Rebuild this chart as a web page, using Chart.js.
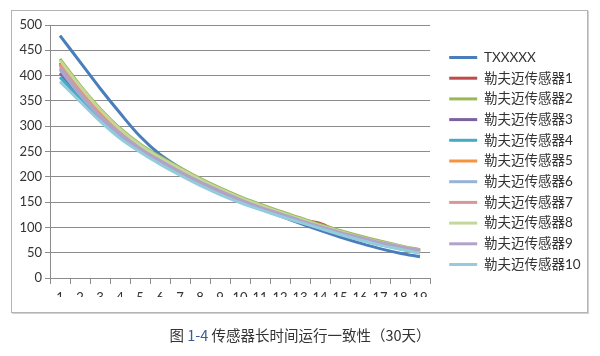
<!DOCTYPE html>
<html>
<head>
<meta charset="utf-8">
<script src="https://cdn.jsdelivr.net/npm/chart.js@4"></script>
<style>
  html, body { margin: 0; padding: 0; background: #fff; }
  body { width: 600px; height: 356px; position: relative; overflow: hidden; }
  #frame { position: absolute; left: 11px; top: 10px; width: 575px; height: 301px;
           border: 1px solid #b4b4b4; box-shadow: 1px 1px 0 #d0d0d0; }
  #wrap { position: absolute; left: 0; top: 0; width: 600px; height: 356px; }
  #caption { position: absolute; left: 0; width: 600px; top: 324px; text-align: center;
             font-family: "Noto Sans CJK SC", sans-serif; font-size: 14.5px; color: #333; }
  #caption .num { color: #3b5a8f; }
</style>
</head>
<body>
<div id="frame"></div>
<div id="wrap"><canvas id="c" width="600" height="356"></canvas></div>
<div id="caption">图 <span class="num">1-4</span> 传感器长时间运行一致性（30天）</div>
<script>
const categories = ['1','2','3','4','5','6','7','8','9','10','11','12','13','14','15','16','17','18','19'];
const seriesNames = ['TXXXXX','勒夫迈传感器1','勒夫迈传感器2','勒夫迈传感器3','勒夫迈传感器4','勒夫迈传感器5','勒夫迈传感器6','勒夫迈传感器7','勒夫迈传感器8','勒夫迈传感器9','勒夫迈传感器10'];
const seriesColors = ['#4A7EBB','#BE4B48','#98B954','#7D60A0','#46AAC5','#F69240','#95B3D7','#D99694','#C3D69B','#B3A2C7','#93CDDD'];

const tx       = [479, 427, 375, 326, 280, 244, 218, 195, 175, 156, 139, 123, 108, 94, 81, 69, 58, 49, 42];
const sensor1  = [425, 372, 327, 290, 260, 235, 212, 192, 173, 156, 141, 127, 115, 108, 90, 79, 69, 61, 53];
const sensor2  = [433, 381, 335, 296, 265, 240, 218, 197, 178, 161, 146, 132, 119, 106, 94, 83, 73, 64, 56];
const sensor3  = [405, 360, 318, 283, 254, 230, 208, 188, 170, 154, 139, 126, 113, 101, 90, 80, 70, 62, 55];
const sensor4  = [397, 354, 313, 279, 251, 227, 205, 185, 167, 151, 136, 123, 111, 99, 87, 76, 66, 58, 50];
const sensor5  = [422, 372, 330, 292, 259, 233, 210, 190, 170, 152, 138, 125, 113, 101, 89, 78, 68, 60, 52];
const sensor6  = [412, 362, 318, 283, 254, 230, 208, 188, 170, 153, 138, 125, 112, 100, 88, 77, 68, 60, 53];
const sensor7  = [420, 368, 323, 287, 257, 232, 210, 190, 171, 154, 139, 126, 113, 101, 89, 78, 68, 60, 53];
const sensor8  = [430, 379, 333, 294, 263, 238, 216, 195, 176, 159, 144, 130, 117, 104, 92, 81, 71, 63, 55];
const sensor9  = [415, 365, 320, 285, 256, 232, 210, 190, 172, 155, 140, 127, 114, 102, 90, 80, 70, 62, 55];
const sensor10 = [388, 349, 310, 276, 249, 225, 203, 183, 165, 149, 135, 122, 110, 98, 86, 75, 65, 57, 49];

const yTicksMin = 0, yTicksMax = 500, yTickStep = 50;

const allSeries = [tx, sensor1, sensor2, sensor3, sensor4, sensor5, sensor6, sensor7, sensor8, sensor9, sensor10];

const FONT = "Lato, 'Noto Sans CJK SC', sans-serif";
const GRID = '#8c8c8c';
const LEGEND_WIDTH = 142;

const datasets = allSeries.map((d, i) => ({
  label: seriesNames[i],
  data: d,
  borderColor: seriesColors[i],
  backgroundColor: seriesColors[i],
  borderWidth: 3,
  pointRadius: 0,
  pointHoverRadius: 0,
  tension: 0.35,
  fill: false,
  order: allSeries.length - i,
  yAxisID: 'y'
}));

const legendWidthPlugin = {
  id: 'legendWidth',
  afterInit(chart) {
    const lg = chart.legend;
    if (lg && !lg._patched) {
      const orig = lg.fit.bind(lg);
      lg.fit = function () { orig(); this.width = LEGEND_WIDTH; };
      lg._patched = true;
    }
  }
};

new Chart(document.getElementById('c'), {
  type: 'line',
  data: { labels: categories, datasets },
  plugins: [legendWidthPlugin],
  options: {
    responsive: false,
    animation: false,
    events: [],
    layout: { padding: { left: 11, top: 25, right: 16, bottom: 59 } },
    plugins: {
      tooltip: { enabled: false },
      legend: {
        position: 'right',
        align: 'center',
        labels: {
          boxWidth: 28,
          boxHeight: 3,
          padding: 7.2,
          color: '#333',
          font: { family: FONT, size: 13.5 },
          sort: (a, b) => a.datasetIndex - b.datasetIndex,
          generateLabels: chart => Chart.defaults.plugins.legend.labels.generateLabels(chart)
            .map(l => Object.assign(l, { lineWidth: 0 }))
        }
      }
    },
    scales: {
      x: {
        offset: true,
        grid: { display: true, offset: true, drawOnChartArea: false, drawTicks: true, tickLength: 6, color: GRID },
        border: { display: true, color: GRID },
        ticks: { color: '#333', font: { family: FONT, size: 13 }, padding: 6, maxRotation: 0, autoSkip: false },
        afterFit: s => { s.height = 19; }
      },
      y: {
        min: yTicksMin, max: yTicksMax,
        grid: { color: GRID, tickLength: 5, drawTicks: true },
        border: { display: true, color: GRID },
        ticks: { stepSize: yTickStep, color: '#333', font: { family: FONT, size: 13 }, padding: 3 },
        afterFit: s => { s.width = 39; }
      },
      spacer: {
        position: 'right',
        display: true,
        min: 0, max: 1,
        grid: { display: false, drawOnChartArea: false },
        border: { display: false },
        ticks: { display: false },
        afterFit: s => { s.width = 12; }
      }
    }
  }
});
</script>
</body>
</html>
